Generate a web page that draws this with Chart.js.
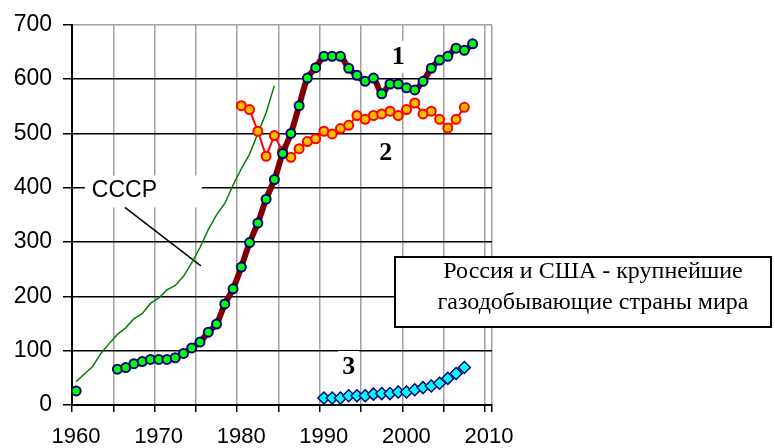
<!DOCTYPE html>
<html>
<head>
<meta charset="utf-8">
<script src="https://cdn.jsdelivr.net/npm/chart.js@4/dist/chart.umd.min.js"></script>
<style>
    html, body { margin: 0; padding: 0; background: #fff; }
    canvas { display: block; }
</style>
</head>
<body>
<canvas id="gasChart" width="775" height="448"></canvas>
<script>
// gas production, bln m3 per year
var ussrYears = [1960, 1961, 1962, 1963, 1964, 1965, 1966, 1967, 1968, 1969, 1970, 1971, 1972,
    1973, 1974, 1975, 1976, 1977, 1978, 1979, 1980, 1981, 1982, 1983, 1984];
var ussrValues = [43, 57, 71, 95, 113, 130, 142, 159, 168, 187, 197, 212, 220,
    237, 262, 290, 323, 350, 371, 405, 435, 462, 500, 538, 588];

// series 1 (no data 1961-1964)
var s1Years = [1960, 1961, 1962, 1963, 1964, 1965, 1966, 1967, 1968, 1969, 1970, 1971, 1972,
    1973, 1974, 1975, 1976, 1977, 1978, 1979, 1980, 1981, 1982, 1983, 1984, 1985, 1986,
    1987, 1988, 1989, 1990, 1991, 1992, 1993, 1994, 1995, 1996, 1997, 1998, 1999, 2000,
    2001, 2002, 2003, 2004, 2005, 2006, 2007, 2008];
var s1Values = [26, null, null, null, null, 66, 69, 76, 80, 84, 84, 84, 87,
    95, 105, 116, 134, 149, 186, 214, 254, 299, 335, 379, 415, 463, 500,
    551, 602, 621, 642, 642, 642, 620, 607, 596, 602, 573, 591, 591, 584,
    580, 596, 620, 635, 642, 657, 653, 665];

// series 2
var s2Years = [1980, 1981, 1982, 1983, 1984, 1985, 1986, 1987, 1988, 1989, 1990, 1991, 1992,
    1993, 1994, 1995, 1996, 1997, 1998, 1999, 2000, 2001, 2002, 2003, 2004, 2005, 2006, 2007];
var s2Values = [551, 544, 504, 458, 496, 467, 456, 472, 485, 490, 504, 499, 509,
    515, 533, 526, 533, 536, 541, 533, 544, 556, 536, 541, 526, 510, 526, 548];

// series 3
var s3Years = [1990, 1991, 1992, 1993, 1994, 1995, 1996, 1997, 1998, 1999, 2000, 2001, 2002,
    2003, 2004, 2005, 2006, 2007];
var s3Values = [13, 13, 13, 17, 17, 17, 20, 21, 21, 24, 24, 28, 32,
    35, 40, 49, 58, 69];

var xLabels = [1960, 1970, 1980, 1990, 2000, 2010];
var xGridYears = [1959.5, 1964.5, 1969.5, 1974.5, 1979.5, 1984.5, 1989.5, 1994.5,
    1999.5, 2004.5, 2009.5, 2010.35];
var yTicks = [0, 100, 200, 300, 400, 500, 600, 700];

var sansFont = "Arial, 'Liberation Sans', sans-serif";
var serifFont = "'Times New Roman', 'Liberation Serif', serif";

function toPoints(years, values) {
    var pts = [];
    for (var i = 0; i < years.length; i++) {
        pts.push({ x: years[i], y: values[i] });
    }
    return pts;
}

// labels drawn on the plot: number tags, СССР callout, caption box
function boxedText(ctx, text, px, py) {
    var w = ctx.measureText(text).width;
    ctx.fillStyle = '#fff';
    ctx.fillRect(px - w / 2 - 4, py - 16, w + 8, 32);
    ctx.fillStyle = '#000';
    ctx.fillText(text, px, py);
}

var notesPlugin = {
    id: 'notes',
    beforeDatasetsDraw: function (chart) {
        var ctx = chart.ctx;
        var xs = chart.scales.x;
        var ys = chart.scales.y;
        ctx.save();

        ctx.font = 'bold 26px ' + serifFont;
        ctx.textAlign = 'center';
        ctx.textBaseline = 'middle';
        boxedText(ctx, '1', xs.getPixelForValue(1999), ys.getPixelForValue(641));
        boxedText(ctx, '2', xs.getPixelForValue(1997.5), ys.getPixelForValue(463));
        boxedText(ctx, '3', xs.getPixelForValue(1993), ys.getPixelForValue(70));

        // СССР callout
        var lx = xs.getPixelForValue(1961.9);
        var ly = ys.getPixelForValue(395);
        ctx.fillStyle = '#fff';
        ctx.fillRect(lx - 7, ly - 15, 117, 32);
        ctx.fillStyle = '#000';
        ctx.font = '23px ' + sansFont;
        ctx.textAlign = 'left';
        ctx.fillText('СССР', lx, ly);
        ctx.strokeStyle = '#000';
        ctx.lineWidth = 1.5;
        ctx.beginPath();
        ctx.moveTo(xs.getPixelForValue(1965.9), ys.getPixelForValue(364));
        ctx.lineTo(xs.getPixelForValue(1975.1), ys.getPixelForValue(256));
        ctx.stroke();
        ctx.restore();
    },
    afterDraw: function (chart) {
        var ctx = chart.ctx;
        ctx.save();
        ctx.fillStyle = '#fff';
        ctx.fillRect(395, 257, 376, 70);
        ctx.strokeStyle = '#000';
        ctx.lineWidth = 2;
        ctx.strokeRect(395, 257, 376, 70);
        ctx.fillStyle = '#000';
        ctx.font = '24px ' + serifFont;
        ctx.textAlign = 'center';
        ctx.textBaseline = 'alphabetic';
        ctx.fillText('Россия и США - крупнейшие', 593, 278);
        ctx.fillText('газодобывающие страны мира', 593, 309);
        ctx.restore();
    }
};

var ctx = document.getElementById('gasChart').getContext('2d');
var chart = new Chart(ctx, {
    type: 'scatter',
    data: {
        datasets: [{
            label: '1',
            data: toPoints(s1Years, s1Values),
            showLine: true,
            spanGaps: false,
            borderColor: '#800000',
            borderWidth: 6,
            tension: 0.3,
            pointRadius: 4.5,
            pointBackgroundColor: '#00ff00',
            pointBorderColor: '#000080',
            pointBorderWidth: 2,
            order: 0
        }, {
            label: '2',
            data: toPoints(s2Years, s2Values),
            showLine: true,
            borderColor: '#ff0000',
            borderWidth: 2,
            pointRadius: 4.5,
            pointBackgroundColor: '#ffc000',
            pointBorderColor: '#ff0000',
            pointBorderWidth: 2,
            order: 1
        }, {
            label: '3',
            data: toPoints(s3Years, s3Values),
            showLine: true,
            borderColor: '#000080',
            borderWidth: 1.5,
            pointStyle: 'rectRot',
            pointRadius: 6,
            pointBackgroundColor: '#00ffff',
            pointBorderColor: '#000080',
            pointBorderWidth: 1.5,
            order: 2
        }, {
            label: 'СССР',
            data: toPoints(ussrYears, ussrValues),
            showLine: true,
            borderColor: '#008000',
            borderWidth: 1.5,
            pointRadius: 0,
            order: 3
        }]
    },
    options: {
        responsive: false,
        animation: false,
        devicePixelRatio: 1,
        layout: { padding: { left: 0, top: 24, right: 283, bottom: 0 } },
        plugins: {
            legend: { display: false },
            tooltip: { enabled: false }
        },
        scales: {
            x: {
                type: 'linear',
                min: 1959.5,
                max: 2010.35,
                afterBuildTicks: function (scale) {
                    scale.ticks = xGridYears.map(function (v) { return { value: v }; });
                },
                afterFit: function (scale) { scale.height = 43; },
                ticks: {
                    autoSkip: false,
                    maxRotation: 0,
                    padding: 12,
                    labelOffset: 4,
                    color: '#000',
                    font: { family: sansFont, size: 22 },
                    callback: function (value) {
                        var yr = value + 0.5;
                        return xLabels.indexOf(yr) >= 0 ? String(yr) : '';
                    }
                },
                grid: {
                    color: '#a0a0a0',
                    lineWidth: 1.5,
                    tickColor: '#000',
                    tickLength: 7
                },
                border: { color: '#000', width: 2 }
            },
            y: {
                min: 0,
                max: 700,
                afterBuildTicks: function (scale) {
                    scale.ticks = yTicks.map(function (v) { return { value: v }; });
                },
                afterFit: function (scale) { scale.width = 72; },
                ticks: {
                    padding: 11,
                    color: '#000',
                    font: { family: sansFont, size: 23 }
                },
                grid: {
                    color: function (c) {
                        return c.tick && c.tick.value === 700 ? '#a0a0a0' : '#000';
                    },
                    lineWidth: 1.5,
                    tickColor: '#000',
                    tickLength: 9
                },
                border: { color: '#000', width: 2 }
            }
        }
    },
    plugins: [notesPlugin]
});
</script>
</body>
</html>
